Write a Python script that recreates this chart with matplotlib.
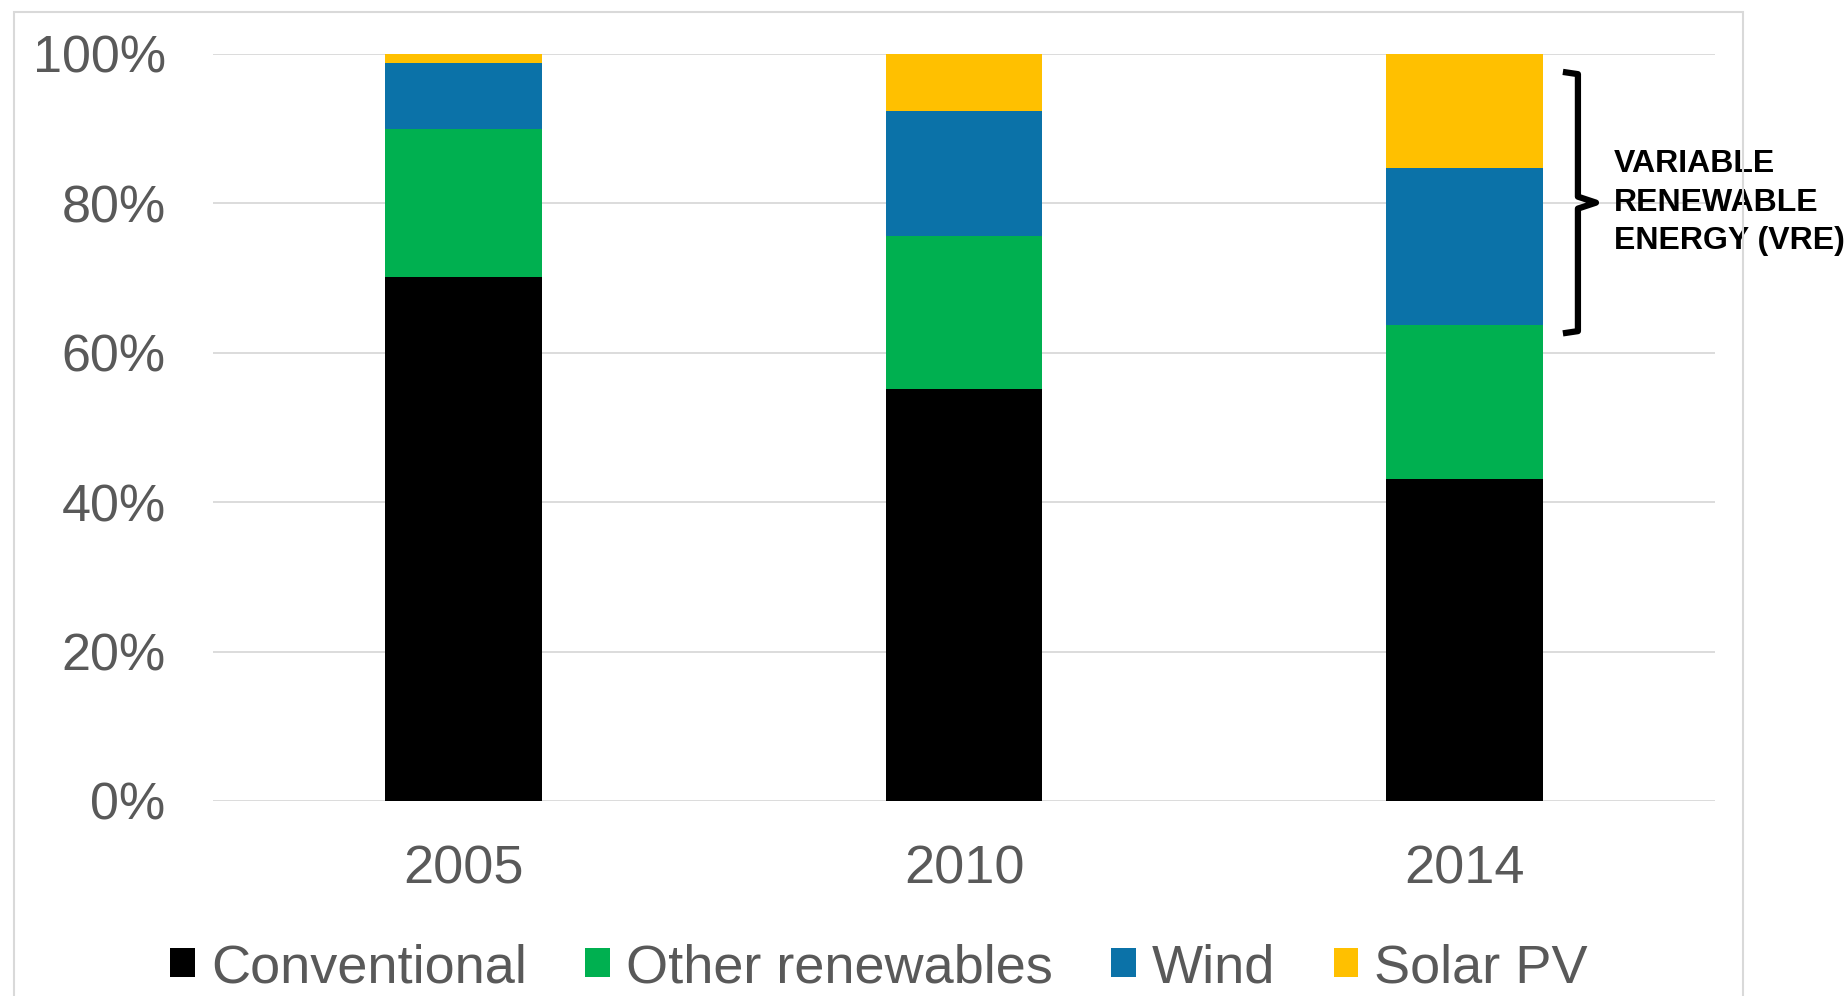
import matplotlib.pyplot as plt
from matplotlib.patches import Rectangle
import numpy as np

plt.rcParams['font.family'] = ['Liberation Sans', 'DejaVu Sans']

years = ['2005', '2010', '2014']
conventional = [70.1, 55.2, 43.1]
other_renewables = [19.9, 20.4, 20.6]
wind = [8.8, 16.8, 21.1]
solar_pv = [1.2, 7.6, 15.2]

series_names = ['Conventional', 'Other renewables', 'Wind', 'Solar PV']
series_colors = ['#000000', '#00B050', '#0B72A8', '#FFC000']

fig = plt.figure(figsize=(18.47, 9.96), dpi=100)
ax = fig.add_axes([0.1153, 0.1958, 0.8133, 0.75])

x = np.arange(len(years))
bottom = np.zeros(len(years))
for vals, name, col in zip([conventional, other_renewables, wind, solar_pv], series_names, series_colors):
    ax.bar(x, vals, width=0.313, bottom=bottom, color=col, label=name, zorder=3)
    bottom += np.array(vals)

ax.set_xlim(-0.5, 2.5)
ax.set_ylim(0, 100)
ax.set_yticks([0, 20, 40, 60, 80, 100])
ax.set_yticklabels([f'{v}%' for v in [0, 20, 40, 60, 80, 100]])
ax.set_xticks(x)
ax.set_xticklabels(years)
ax.tick_params(axis='y', length=0, pad=34, labelsize=37.5, labelcolor='#595959')
ax.tick_params(axis='x', length=0, pad=31, labelsize=39, labelcolor='#595959')
ax.grid(axis='y', color='#D9D9D9', linewidth=1.3, zorder=0)
for s in ax.spines.values():
    s.set_visible(False)

# VRE bracket
bx0, bx1, tip = 2.196, 2.226, 2.262
y_top, y_bot = 97.6, 62.6
y_mid = (y_top + y_bot) / 2
ax.plot([bx0, bx1, bx1, tip, bx1, bx1, bx0],
        [y_top, y_top - 0.3, y_mid + 0.8, y_mid, y_mid - 0.8, y_bot + 0.3, y_bot],
        color='black', linewidth=4.5, solid_joinstyle='round',
        solid_capstyle='butt', clip_on=False, zorder=4)
ax.text(2.298, y_mid, 'VARIABLE\nRENEWABLE\nENERGY (VRE)', fontsize=23,
        fontweight='bold', ha='left', va='center', linespacing=1.36,
        clip_on=False)

leg = fig.legend(loc='center', bbox_to_anchor=(879 / 1847, 1 - 968 / 996),
                 ncol=4, frameon=False, fontsize=39, handlelength=0.45,
                 handleheight=0.45, handletextpad=0.3, columnspacing=1.08,
                 borderpad=0)
for t in leg.get_texts():
    t.set_color('#595959')

# outer chart border
fig.patches.append(Rectangle((14 / 1847, -0.05), (1743 - 14) / 1847, 1.05 - 12 / 996,
                             transform=fig.transFigure, fill=False,
                             edgecolor='#D9D9D9', linewidth=1.5))

fig.savefig('out.png', dpi=100)
